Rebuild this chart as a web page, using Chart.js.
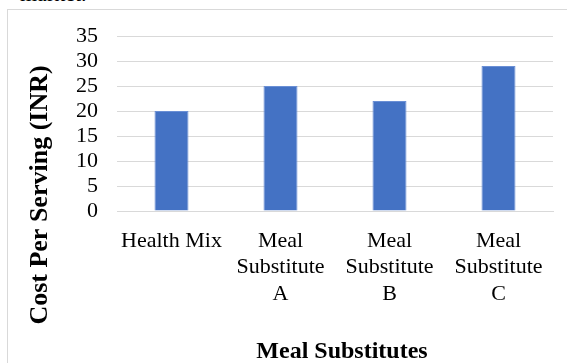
<!DOCTYPE html>
<html>
<head>
<meta charset="utf-8">
<script src="https://cdn.jsdelivr.net/npm/chart.js@4/dist/chart.umd.min.js"></script>
<style>
  html, body { margin: 0; padding: 0; background: #fff; overflow: hidden; }
  #wrap { position: relative; width: 567px; height: 363px; }
  #frame { position: absolute; left: 7px; top: 9px; width: 580px; height: 400px; border: 1px solid #d9d9d9; box-sizing: border-box; }
  #frag { position: absolute; left: 20px; top: -19px; font: 22px "Liberation Serif", serif; color: #000; }
  canvas { position: absolute; left: 0; top: 0; }
</style>
</head>
<body>
<div id="wrap">
  <div id="frag">market.</div>
  <div id="frame"></div>
  <canvas id="c" width="567" height="363"></canvas>
</div>
<script>
const categories = [["Health Mix"], ["Meal", "Substitute", "A"], ["Meal", "Substitute", "B"], ["Meal", "Substitute", "C"]];
const costPerServing = [20, 25, 22, 29];
const yTicks = [0, 5, 10, 15, 20, 25, 30, 35];
const xTitle = "Meal Substitutes";
const yTitle = "Cost Per Serving (INR)";

const SERIF = '"Liberation Serif", "Times New Roman", serif';

const titlePlugin = {
  id: 'axisTitles',
  afterDraw(chart) {
    const ctx = chart.ctx;
    ctx.save();
    ctx.fillStyle = '#000';
    ctx.font = 'bold 24px ' + SERIF;
    ctx.textAlign = 'center';
    ctx.textBaseline = 'alphabetic';
    ctx.fillText(xTitle, 342, 358);
    ctx.font = 'bold 26px ' + SERIF;
    ctx.translate(47, 195);
    ctx.rotate(-Math.PI / 2);
    ctx.fillText(yTitle, 0, 0);
    ctx.restore();
  }
};

new Chart(document.getElementById('c'), {
  type: 'bar',
  data: {
    labels: categories,
    datasets: [{
      data: costPerServing,
      backgroundColor: '#4472C4',
      borderColor: '#6a8fd5',
      borderWidth: 1,
      categoryPercentage: 1,
      barPercentage: 0.312
    }]
  },
  options: {
    responsive: false,
    animation: false,
    devicePixelRatio: 1,
    layout: { padding: { left: 0, top: 36, right: 14, bottom: 0 } },
    plugins: { legend: { display: false }, tooltip: { enabled: false } },
    scales: {
      x: {
        grid: { display: false, drawTicks: false },
        border: { display: true, color: '#d9d9d9', width: 1 },
        ticks: {
          color: '#000',
          font: { family: SERIF, size: 22, lineHeight: 1.2 },
          padding: 17,
          maxRotation: 0,
          autoSkip: false
        },
        afterFit(scale) { scale.height = 152; }
      },
      y: {
        min: 0,
        max: 35,
        afterBuildTicks(scale) { scale.ticks = yTicks.map(v => ({ value: v })); },
        grid: { color: '#d9d9d9', lineWidth: 1, drawTicks: false },
        border: { display: false },
        ticks: {
          color: '#000',
          font: { family: SERIF, size: 22 },
          padding: 19,
          autoSkip: false,
          stepSize: 5
        },
        afterFit(scale) { scale.width = 117; }
      }
    }
  },
  plugins: [titlePlugin]
});
</script>
</body>
</html>
